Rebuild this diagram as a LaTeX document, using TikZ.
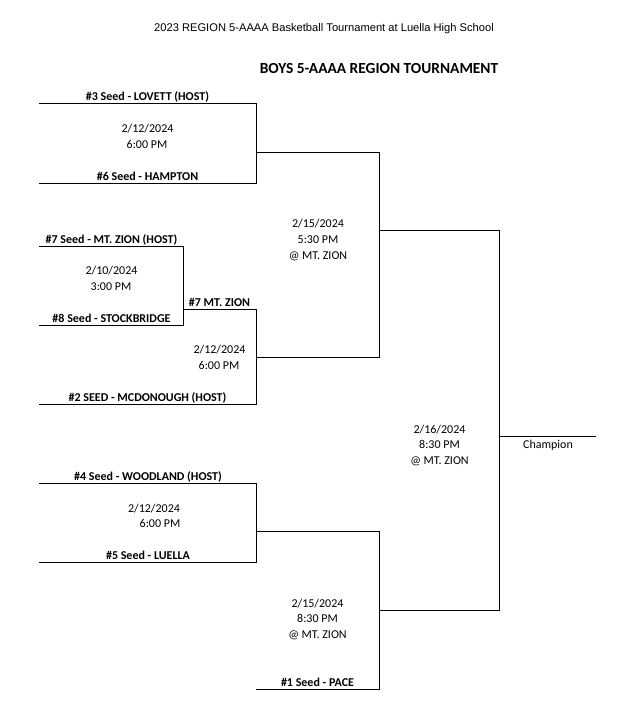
\documentclass[tikz,border=0pt]{standalone}
\usepackage{fontspec}
\setmainfont{Carlito}
\newfontfamily\arialf{Liberation Sans}
\begin{document}
\begin{tikzpicture}[x=1pt,y=-1pt,
  lab/.style={font=\fontsize{12}{14}\selectfont\bfseries, inner sep=0pt, anchor=base},
  info/.style={font=\fontsize{12}{14}\selectfont, inner sep=0pt, anchor=base},
  br/.style={line width=1pt, line join=miter}]
\useasboundingbox (0,0) rectangle (642,702);
% titles
\node[inner sep=0pt, anchor=base, font=\arialf\fontsize{11.15}{13}\selectfont] (t1) at (324,31) {2023 REGION 5-AAAA Basketball Tournament at Luella High School};
\node[inner sep=0pt, anchor=base, font=\fontsize{15.4}{18}\selectfont\bfseries] (t2) at (379,73) {BOYS 5-AAAA REGION TOURNAMENT};
% bracket coordinates
\coordinate (a1) at (39,103); \coordinate (a2) at (256,103); \coordinate (a3) at (256,183); \coordinate (a4) at (39,183);
\coordinate (b1) at (256,152); \coordinate (b2) at (379,152); \coordinate (b3) at (379,357); \coordinate (b4) at (256,357);
\coordinate (c1) at (39,246); \coordinate (c2) at (183,246); \coordinate (c3) at (183,325); \coordinate (c4) at (39,325);
\coordinate (d1) at (183,309); \coordinate (d2) at (256,309); \coordinate (d3) at (256,404); \coordinate (d4) at (39,404);
\coordinate (e1) at (379,230); \coordinate (e2) at (499,230); \coordinate (e3) at (499,610); \coordinate (e4) at (379,610);
\coordinate (h1) at (499,436); \coordinate (h2) at (596,436);
\coordinate (f1) at (39,483); \coordinate (f2) at (256,483); \coordinate (f3) at (256,562); \coordinate (f4) at (39,562);
\coordinate (g1) at (256,531); \coordinate (g2) at (379,531); \coordinate (g3) at (379,689); \coordinate (g4) at (256,689);
\draw[br] (a1) -- (a2) -- (a3) -- (a4);
\draw[br] (b1) -- (b2) -- (b3) -- (b4);
\draw[br] (c1) -- (c2) -- (c3) -- (c4);
\draw[br] (d1) -- (d2) -- (d3) -- (d4);
\draw[br] (e1) -- (e2) -- (e3) -- (e4);
\draw[br] (h1) -- (h2);
\draw[br] (f1) -- (f2) -- (f3) -- (f4);
\draw[br] (g1) -- (g2) -- (g3) -- (g4);
% labels
\node[lab] (s3) at (147.5,100) {\#3 Seed - LOVETT (HOST)};
\node[info] (m1d) at (147.5,132) {2/12/2024};
\node[info] (m1t) at (147,148) {6:00 PM};
\node[lab] (s6) at (147.5,180) {\#6 Seed - HAMPTON};
\node[lab] (s7) at (111.5,243) {\#7 Seed - MT. ZION (HOST)};
\node[info] (m2d) at (111.5,274) {2/10/2024};
\node[info] (m2t) at (111,290) {3:00 PM};
\node[lab] (s8) at (111.5,322) {\#8 Seed - STOCKBRIDGE};
\node[lab] (w7) at (219.5,306) {\#7 MT. ZION};
\node[info] (m3d) at (219.5,353) {2/12/2024};
\node[info] (m3t) at (219,369) {6:00 PM};
\node[lab] (s2) at (147.5,401) {\#2 SEED - MCDONOUGH (HOST)};
\node[info] (m4d) at (318,227) {2/15/2024};
\node[info] (m4t) at (318,243) {5:30 PM};
\node[info] (m4p) at (318,259) {@ MT. ZION};
\node[lab] (s4) at (148,480) {\#4 Seed - WOODLAND (HOST)};
\node[info] (m5d) at (154,512) {2/12/2024};
\node[info] (m5t) at (160,527) {6:00 PM};
\node[lab] (s5) at (148,559) {\#5 Seed - LUELLA};
\node[info] (m6d) at (317.5,607) {2/15/2024};
\node[info] (m6t) at (317.5,622) {8:30 PM};
\node[info] (m6p) at (317.5,638) {@ MT. ZION};
\node[lab] (s1) at (317.5,686) {\#1 Seed - PACE};
\node[info] (m7d) at (439.5,433) {2/16/2024};
\node[info] (m7t) at (439.5,448) {8:30 PM};
\node[info] (m7p) at (439.5,464) {@ MT. ZION};
\node[info] (ch) at (548,448) {Champion};
\end{tikzpicture}
\end{document}
